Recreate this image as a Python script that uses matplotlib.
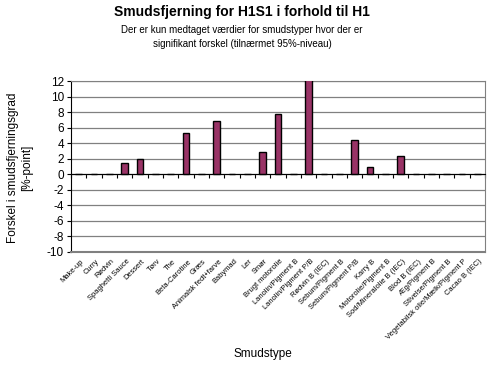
import numpy as np
import matplotlib
matplotlib.use("Agg")
import matplotlib.pyplot as plt
import matplotlib.transforms as mtransforms

plt.rcParams['font.family'] = ['Liberation Sans', 'DejaVu Sans']

categories = ["Make-up", "Curry", "Rødvin", "Spaghetti Sauce", "Dessert", "Tørv",
              "The", "Beta-Carotine", "Græs", "Animalsk fedt+farve", "Babymad",
              "Ler", "Smør", "Brugt motorolie", "Lanolin/Pigment B",
              "Lanolin/Pigment P/B", "Rødvin B (IEC)", "Sebum/Pigment B",
              "Sebum/Pigment P/B", "Karry B", "Motorolie/Pigment B",
              "Sod/Mineralolie B (IEC)", "Blod B (IEC)", "Æg/Pigment B",
              "Stivelse/Pigment B", "Vegetabilsk olie/Mælk/Pigment P",
              "Cacao B (IEC)"]
values = [0, 0, 0, 1.4, 2.0, 0, 0, 5.3, 0, 6.8, 0, 0, 2.9, 7.8, 0, 12.5, 0,
          0, 4.4, 1.0, 0, 2.4, 0, 0, 0, 0, 0]
yticks = list(range(-10, 13, 2))

W, H = 489, 367
fig = plt.figure(figsize=(W / 100, H / 100), dpi=100)
fig.patch.set_facecolor('white')
ax = fig.add_axes([71 / W, 1 - 252 / H, (485 - 71) / W, (252 - 81) / H])

x = np.arange(len(categories))
ax.bar(x, values, width=0.42, color='#993366', edgecolor='black', linewidth=1, zorder=3)

ax.set_xlim(-0.5, len(categories) - 0.5)
ax.set_ylim(-10, 12)
ax.set_yticks(yticks)
ax.set_yticklabels([str(t) for t in yticks], fontsize=8.5)
ax.yaxis.grid(True, color='#808080', linewidth=0.9, zorder=0)
ax.tick_params(axis='y', direction='out', length=3, width=0.8, pad=2)

# category axis sits at zero, ticks between categories
ax.spines['bottom'].set_position(('data', 0))
ax.spines['bottom'].set_color('black')
ax.spines['bottom'].set_zorder(4)
ax.set_xticks(np.arange(-0.5, len(categories)), minor=False)
ax.set_xticklabels([])
ax.tick_params(axis='x', direction='out', length=3, width=0.8)
ax.spines['left'].set_color('black')
for s in ['top', 'right']:
    ax.spines[s].set_color('#808080')
ax.axhline(-10, color='#808080', linewidth=1.5, zorder=4, clip_on=False)

trans = mtransforms.blended_transform_factory(ax.transData, ax.transAxes)
for i, c in enumerate(categories):
    ax.text(i + 0.1, -0.035, c, transform=trans, rotation=45, ha='right', va='top',
            rotation_mode='anchor', fontsize=5.4)

fig.text(242 / W, 1 - 12 / H, "Smudsfjerning for H1S1 i forhold til H1",
         ha='center', va='center', fontsize=10, fontweight='bold')
fig.text(242 / W, 1 - 37 / H,
         "Der er kun medtaget værdier for smudstyper hvor der er\nsignifikant forskel (tilnærmet 95%-niveau)",
         ha='center', va='center', fontsize=7, linespacing=1.5)
fig.text(20 / W, 1 - 168 / H, "Forskel i smudsfjerningsgrad\n[%-point]",
         rotation=90, ha='center', va='center', fontsize=8.5, linespacing=1.2)
fig.text(263 / W, 1 - 354 / H, "Smudstype", ha='center', va='center', fontsize=8.5)

fig.savefig('out.png', dpi=100)
